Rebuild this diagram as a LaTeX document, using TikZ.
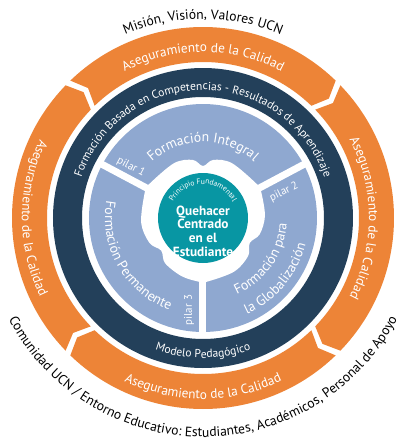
\documentclass[tikz,border=0pt]{standalone}
\usepackage{fontspec}
\setmainfont{PT Sans}
\usetikzlibrary{decorations.text}

\definecolor{orangeUCN}{RGB}{237,132,55}
\definecolor{navyUCN}{RGB}{35,64,90}
\definecolor{pilarblue}{RGB}{143,168,208}
\definecolor{tealUCN}{RGB}{8,150,163}

\newcommand{\ringfont}{\fontsize{13.3}{13.3}\selectfont\color{white}}
\newcommand{\modelfont}{\fontsize{11.6}{11.6}\selectfont\color{white}}
\newcommand{\pilarfont}{\fontsize{13.8}{13.8}\selectfont\color{white}}
\newcommand{\outerfont}{\fontsize{13.6}{13.6}\selectfont}
\newcommand{\principiofont}{\fontsize{7.6}{7.6}\selectfont\color{white}}

\tikzset{
  arctext/.style 2 args={decorate, decoration={text along path, text align=center, text={|#1|#2}}},
  pilartag/.style={text=white, font=\fontsize{11}{11}\selectfont, inner sep=0pt},
}

\begin{document}
\begin{tikzpicture}[x=1pt, y=1pt]

    \useasboundingbox (-203,-222) rectangle (203,218);

    % anillo naranjo: cuatro flechas en sentido horario
    \foreach \c in {90,0,-90,180}{
        \pgfmathsetmacro\T{\c+45-1}
        \pgfmathsetmacro\H{\c-45+1}
        \fill[orangeUCN] (\T:191pt) arc[start angle=\T, end angle=\H, radius=191pt]
            -- ({\H-2.5}:173.5pt) -- (\H:156pt)
            arc[start angle=\H, end angle=\T, radius=156pt]
            -- ({\T-2.5}:173.5pt) -- cycle;
    }

    % modelo pedagogico
    \fill[navyUCN, even odd rule] (0,0) circle (150pt) (0,0) circle (121pt);

    % pilares
    \fill[pilarblue] (0,0) circle (114pt);
    \foreach \a in {28,152,270}
        \draw[white, line width=7pt] (0,0) -- (\a:116pt);
    \fill[white] plot[smooth cycle, tension=0.55] coordinates {
        (31:64pt) (62:62pt) (80:59pt) (90:52pt) (100:59pt) (118:62pt) (149:64pt)
        (155:64pt) (184:62pt) (205:59pt) (218:53pt) (230:59pt) (250:62pt) (267:64pt)
        (273:64pt) (300:62pt) (320:59pt) (332:53pt) (344:59pt) (362:62pt) (385:64pt)};
    \fill[tealUCN] (0,0) circle (45pt);

    % textos curvos
    \path[arctext={\ringfont}{Aseguramiento de la Calidad}] (135:166pt) arc[start angle=135, end angle=45, radius=166pt];
    \path[arctext={\ringfont}{Aseguramiento de la Calidad}] (45:166pt) arc[start angle=45, end angle=-45, radius=166pt];
    \path[arctext={\ringfont}{Aseguramiento de la Calidad}] (135:181pt) arc[start angle=135, end angle=225, radius=181pt];
    \path[arctext={\ringfont}{Aseguramiento de la Calidad}] (225:181pt) arc[start angle=225, end angle=315, radius=181pt];

    \path[arctext={\modelfont}{Formación Basada en Competencias - Resultados de Aprendizaje}] (170:128pt) arc[start angle=170, end angle=10, radius=128pt];
    \path[arctext={\modelfont}{Modelo Pedagógico}] (235:140pt) arc[start angle=235, end angle=305, radius=140pt];

    \path[arctext={\pilarfont}{Formación Integral}] (145:76pt) arc[start angle=145, end angle=35, radius=76pt];
    \path[arctext={\pilarfont}{Formación Permanente}] (155:98pt) arc[start angle=155, end angle=265, radius=98pt];
    \path[arctext={\pilarfont}{Formación para}] (-85:84pt) arc[start angle=-85, end angle=15, radius=84pt];
    \path[arctext={\pilarfont}{la Globalización}] (-90:106pt) arc[start angle=-90, end angle=10, radius=106pt];

    \path[arctext={\principiofont}{Principio Fundamental}] (175:34pt) arc[start angle=175, end angle=5, radius=34pt];

    \path[arctext={\outerfont}{Misión, Visión, Valores UCN}] (150:199pt) arc[start angle=150, end angle=30, radius=199pt];
    \path[arctext={\outerfont}{Comunidad UCN / Entorno Educativo: Estudiantes, Académicos, Personal de Apoyo}] (190:219pt) arc[start angle=190, end angle=350, radius=219pt];

    % etiquetas de pilares
    \node[pilartag, rotate=-28] (pilar1) at (-72,51) {pilar 1};
    \node[pilartag, rotate=26] (pilar2) at (81,26) {pilar 2};
    \node[pilartag, rotate=90] (pilar3) at (-14,-92) {pilar 3};

    \node[align=center, text=white, inner sep=0pt, font=\bfseries\fontsize{13.3}{13.6}\selectfont] (nucleo) at (0,-13) {Quehacer\\Centrado\\en el\\Estudiante};

\end{tikzpicture}
\end{document}
